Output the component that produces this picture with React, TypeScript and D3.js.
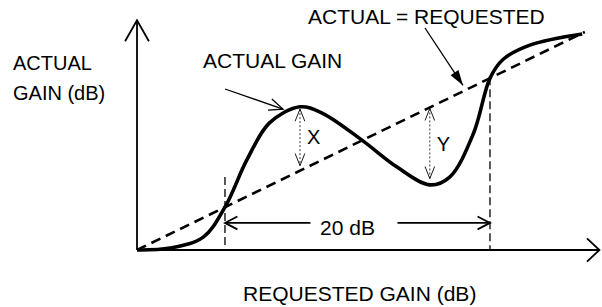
import React, { useEffect, useRef } from 'react';
import * as d3 from 'd3';

// requested gain (dB) vs actual gain (dB) along the drawn curve
const requested = [0, 2.5, 5, 6.64, 8.3, 10, 12.3, 14, 17, 19.6, 22.1, 23.6, 25.4, 26.64, 27.6, 29.7, 33.6];
const actual = [0, 0.3, 2, 6.64, 14, 19.7, 22.2, 21.2, 17, 12.9, 10.1, 11.3, 18.1, 26.64, 29.5, 31.8, 33.5];
// actual = requested reference line
const identity = [0, 33.8];
// where the curve crosses the reference line (20 dB apart)
const crossings = [6.64, 26.64];
const crossingTops = [11.3, 26.8];
// deviation markers X and Y
const devLabels = ['X', 'Y'];
const devAt = [12.3, 22.1];
const devCurve = [22.0, 10.3];
const spanLabel = '20 dB';
const spanLevel = 4.2;
const axisMax = [34.9, 35.6];

const W = 602, H = 307;
const FONT = 'Liberation Sans, Arial, sans-serif';

function chevron(tx: number, ty: number, ang: number, len: number, spread: number) {
  const a1 = ang + Math.PI - spread, a2 = ang + Math.PI + spread;
  return `M${tx + len * Math.cos(a1)},${ty + len * Math.sin(a1)}L${tx},${ty}L${tx + len * Math.cos(a2)},${ty + len * Math.sin(a2)}`;
}

export default function App() {
  const ref = useRef<SVGSVGElement>(null);

  useEffect(() => {
    const svg = d3.select(ref.current);
    svg.selectAll('*').remove();

    const x = d3.scaleLinear().domain([0, 34]).range([137, 137 + 34 * 13.25]);
    const y = d3.scaleLinear().domain([0, 34]).range([250, 250 - 34 * 6.45]);

    const g = svg.append('g');

    // axes
    g.append('line').attr('x1', x(0)).attr('y1', y(0)).attr('x2', x(axisMax[0])).attr('y2', y(0))
      .attr('stroke', '#000').attr('stroke-width', 1.8);
    g.append('line').attr('x1', x(0)).attr('y1', y(0)).attr('x2', x(0)).attr('y2', y(axisMax[1]))
      .attr('stroke', '#000').attr('stroke-width', 1.8);
    g.append('path').attr('d', chevron(x(axisMax[0]), y(0), 0, 17, 0.75))
      .attr('fill', 'none').attr('stroke', '#000').attr('stroke-width', 1.8);
    g.append('path').attr('d', chevron(x(0), y(axisMax[1]), -Math.PI / 2, 24, 0.52))
      .attr('fill', 'none').attr('stroke', '#000').attr('stroke-width', 1.8);

    // actual = requested dashed line
    g.append('line')
      .attr('x1', x(identity[0])).attr('y1', y(identity[0]))
      .attr('x2', x(identity[1])).attr('y2', y(identity[1]))
      .attr('stroke', '#000').attr('stroke-width', 2.6).attr('stroke-dasharray', '10,6');

    // vertical dashed lines at crossings
    crossings.forEach((c, i) => {
      g.append('line').attr('x1', x(c)).attr('x2', x(c)).attr('y1', y(crossingTops[i])).attr('y2', y(0))
        .attr('stroke', '#000').attr('stroke-width', 1.3).attr('stroke-dasharray', '8,4');
    });

    // actual gain curve
    const pts = requested.map((r, i) => [r, actual[i]] as [number, number]);
    const line = d3.line<[number, number]>().x(d => x(d[0])).y(d => y(d[1])).curve(d3.curveCatmullRom.alpha(0.5));
    g.append('path').attr('d', line(pts)!)
      .attr('fill', 'none').attr('stroke', '#000').attr('stroke-width', 3.6);

    // X / Y deviation arrows
    devAt.forEach((d, i) => {
      const top = i === 0 ? devCurve[i] : d;
      const bot = i === 0 ? d : devCurve[i];
      const y1 = y(top) + 1, y2 = y(bot) - 5;
      g.append('line').attr('x1', x(d)).attr('x2', x(d)).attr('y1', y1).attr('y2', y2)
        .attr('stroke', '#000').attr('stroke-width', 0.8).attr('stroke-dasharray', '2,2');
      g.append('path').attr('d', chevron(x(d), y1, -Math.PI / 2, 13, 0.38))
        .attr('fill', 'none').attr('stroke', '#000').attr('stroke-width', 0.9);
      g.append('path').attr('d', chevron(x(d), y2, Math.PI / 2, 13, 0.38))
        .attr('fill', 'none').attr('stroke', '#000').attr('stroke-width', 0.9);
      g.append('text').attr('x', x(d) + 7).attr('y', (y1 + y2) / 2 + 7)
        .attr('font-family', FONT).attr('font-size', 20).text(devLabels[i]);
    });

    // 20 dB span arrow
    const sy = y(spanLevel);
    const mid = (x(crossings[0]) + x(crossings[1])) / 2;
    g.append('line').attr('x1', x(crossings[0])).attr('x2', mid - 47).attr('y1', sy).attr('y2', sy)
      .attr('stroke', '#000').attr('stroke-width', 1.8);
    g.append('line').attr('x1', mid + 40).attr('x2', x(crossings[1])).attr('y1', sy).attr('y2', sy)
      .attr('stroke', '#000').attr('stroke-width', 1.8);
    g.append('path').attr('d', chevron(x(crossings[0]), sy, Math.PI, 14, 0.48))
      .attr('fill', 'none').attr('stroke', '#000').attr('stroke-width', 1.8);
    g.append('path').attr('d', chevron(x(crossings[1]), sy, 0, 14, 0.48))
      .attr('fill', 'none').attr('stroke', '#000').attr('stroke-width', 1.8);
    g.append('text').attr('x', mid - 10).attr('y', sy + 12).attr('text-anchor', 'middle')
      .attr('font-family', FONT).attr('font-size', 21).text(spanLabel);

    // ACTUAL GAIN pointer
    const tipX = x(devAt[0]) - 17, tipY = y(devCurve[0]) + 1;
    const ang1 = Math.atan2(tipY - 89, tipX - 225);
    g.append('line').attr('x1', 225).attr('y1', 89).attr('x2', tipX).attr('y2', tipY)
      .attr('stroke', '#000').attr('stroke-width', 1.3);
    g.append('path').attr('d', chevron(tipX, tipY, ang1, 15, 0.4))
      .attr('fill', 'none').attr('stroke', '#000').attr('stroke-width', 1.3);

    // ACTUAL = REQUESTED pointer (filled head)
    const t2x = x(24.6), t2y = y(24.6) - 6;
    const ang2 = Math.atan2(t2y - 28, t2x - 425);
    g.append('line').attr('x1', 425).attr('y1', 28).attr('x2', t2x).attr('y2', t2y)
      .attr('stroke', '#000').attr('stroke-width', 1.3);
    const hl = 16, hw = 0.3;
    g.append('path')
      .attr('d', `M${t2x},${t2y}L${t2x - hl * Math.cos(ang2 - hw)},${t2y - hl * Math.sin(ang2 - hw)}L${t2x - hl * Math.cos(ang2 + hw)},${t2y - hl * Math.sin(ang2 + hw)}Z`)
      .attr('fill', '#000');

    // text labels
    const txt = (tx: number, ty: number, s: string, size = 21) =>
      g.append('text').attr('x', tx).attr('y', ty).attr('font-family', FONT).attr('font-size', size).attr('fill', '#000').text(s);
    txt(308, 24, 'ACTUAL = REQUESTED');
    txt(203, 68, 'ACTUAL GAIN');
    txt(13, 70, 'ACTUAL', 20);
    txt(13, 100, 'GAIN (dB)', 20);
    txt(243, 301, 'REQUESTED GAIN (dB)');
  }, []);

  return (
    <svg ref={ref} width={W} height={H} style={{ position: 'absolute', left: 0, top: 0, background: '#fff' }} />
  );
}
